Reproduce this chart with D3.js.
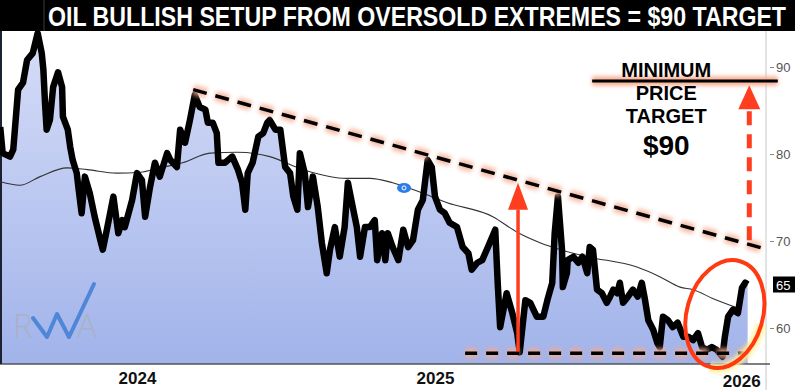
<!DOCTYPE html>
<html>
<head>
<meta charset="utf-8">
<script src="https://cdn.jsdelivr.net/npm/d3@7"></script>
<style>
  body { margin: 0; background: #fff; }
  svg { display: block; font-family: "Liberation Sans", Arial, sans-serif; }
</style>
</head>
<body>
<svg id="chart" width="795" height="390"></svg>
<script>
const titleText = "OIL BULLISH SETUP FROM OVERSOLD EXTREMES = $90 TARGET";

// WTI price trace
const priceDates = [
  "2023-07-17","2023-07-20","2023-07-29","2023-08-02","2023-08-08","2023-08-14","2023-08-19","2023-08-26",
  "2023-09-01","2023-09-06","2023-09-08","2023-09-10","2023-09-12","2023-09-16","2023-09-20","2023-09-26",
  "2023-10-01","2023-10-02","2023-10-08","2023-10-11","2023-10-14","2023-10-19","2023-10-21","2023-10-25",
  "2023-10-29","2023-11-04","2023-11-10","2023-11-17","2023-11-20","2023-11-25","2023-12-03","2023-12-09",
  "2023-12-14","2023-12-17","2023-12-26","2024-01-01","2024-01-07","2024-01-11","2024-01-17","2024-01-23",
  "2024-01-29","2024-02-07","2024-02-11","2024-02-19","2024-02-23","2024-02-29","2024-03-06","2024-03-12",
  "2024-03-18","2024-03-25","2024-03-28","2024-04-03","2024-04-08","2024-04-10","2024-04-18","2024-04-27",
  "2024-05-04","2024-05-09","2024-05-13","2024-05-16","2024-05-22","2024-05-29","2024-06-04","2024-06-09",
  "2024-06-12","2024-06-19","2024-06-25","2024-07-01","2024-07-07","2024-07-11","2024-07-16","2024-07-19",
  "2024-07-25","2024-07-29","2024-08-04","2024-08-10","2024-08-15","2024-08-21","2024-08-25","2024-08-31",
  "2024-09-06","2024-09-12","2024-09-16","2024-09-22","2024-09-27","2024-10-01","2024-10-07","2024-10-13",
  "2024-10-19","2024-10-22","2024-10-28","2024-11-01","2024-11-04","2024-11-10","2024-11-17","2024-11-23",
  "2024-11-29","2024-12-05","2024-12-11","2024-12-17","2024-12-23","2024-12-28","2025-01-01","2025-01-07",
  "2025-01-13","2025-01-19","2025-01-28","2025-02-04","2025-02-11","2025-02-15","2025-02-22","2025-02-28",
  "2025-03-07","2025-03-16","2025-03-19","2025-03-22","2025-03-30","2025-04-06","2025-04-12","2025-04-15",
  "2025-04-22","2025-04-28","2025-05-06","2025-05-14","2025-05-19","2025-05-25","2025-05-28","2025-06-01",
  "2025-06-06","2025-06-07","2025-06-12","2025-06-13","2025-06-20","2025-06-26","2025-07-01","2025-07-07",
  "2025-07-10","2025-07-14","2025-07-19","2025-07-25","2025-07-31","2025-08-04","2025-08-08","2025-08-13",
  "2025-08-16","2025-08-20","2025-08-26","2025-09-01","2025-09-07","2025-09-12","2025-09-16","2025-09-20",
  "2025-09-26","2025-10-01","2025-10-04","2025-10-08","2025-10-14","2025-10-20","2025-10-26","2025-11-02",
  "2025-11-08","2025-11-14","2025-11-20","2025-11-25","2025-12-01","2025-12-07","2025-12-13","2025-12-20",
  "2025-12-23","2025-12-27","2026-01-02","2026-01-08","2026-01-13","2026-01-17","2026-01-20"
];
const priceValues = [
  83.1,80.1,79.7,80.5,87.4,88.2,90.8,91.6,
  93.9,91.6,89.7,85.9,82.8,83.9,87.7,89.4,
  87.7,84.3,82.8,80.8,79.3,77.8,76.2,73.2,
  77.4,75.5,72.8,70.1,69.0,71.3,75.1,70.9,
  72.4,71.6,74.7,77.8,77.0,72.8,76.2,79.0,
  77.4,80.1,79.3,78.5,82.8,81.3,83.9,86.8,
  85.4,85.1,83.6,83.6,82.4,79.0,79.0,79.7,
  78.2,76.7,73.6,77.8,79.0,82.0,82.4,83.6,
  83.9,82.8,82.8,78.5,77.8,75.1,73.6,80.1,
  77.8,73.9,77.4,73.9,69.8,66.3,69.0,71.6,
  68.2,71.6,76.7,73.9,71.6,68.2,71.6,71.6,
  72.4,67.8,70.9,67.8,70.9,69.3,67.8,71.3,
  69.3,70.1,73.6,74.7,79.3,78.5,75.1,73.6,
  73.2,72.1,71.6,69.3,68.6,66.7,67.5,67.8,
  69.3,71.3,65.2,60.1,64.0,61.7,59.4,57.2,
  63.2,62.9,61.3,61.3,63.2,65.2,70.9,75.1,
  69.0,64.7,66.3,67.8,68.2,67.5,68.2,66.3,
  69.3,69.0,64.4,64.0,62.9,63.6,64.4,64.0,
  65.2,62.9,63.6,64.4,63.6,65.2,63.2,60.9,
  59.8,58.3,57.8,61.3,60.9,60.1,60.6,59.0,
  59.0,58.6,59.4,57.8,57.5,57.8,57.5,56.7,
  59.0,61.3,62.1,61.7,64.6,65.2,65.0
];

// moving average (thin line)
const maDates = [
  "2023-07-17","2023-08-10","2023-09-04","2023-10-07","2023-11-01","2023-12-07","2024-01-05","2024-01-29",
  "2024-02-26","2024-03-31","2024-05-03","2024-06-12","2024-07-23","2024-09-15","2024-10-13","2024-11-10",
  "2024-12-14","2025-01-16","2025-03-13","2025-04-12","2025-05-10","2025-06-04","2025-07-07","2025-09-06",
  "2025-10-04","2025-10-29","2025-11-14","2025-12-08","2026-01-11"
];
const maValues = [
  76.8,76.4,77.4,78.4,78.2,77.8,77.9,78.4,
  79.0,80.1,80.2,79.7,78.2,77.2,77.2,76.7,
  75.6,74.4,72.8,71.0,69.8,69.0,68.2,67.0,
  65.9,64.7,64.4,63.4,62.2
];

const yearTicks = ["2024-01-01", "2025-01-01", "2026-01-01"];
const priceTicks = [60, 70, 80, 90];

// annotations
const resistanceDates = ["2024-03-10", "2026-02-14"];
const resistanceValues = [87.4, 69.0];
const supportDates = ["2025-02-07", "2026-01-20"];
const supportValue = 57.1;
const targetDates = ["2025-07-13", "2026-02-26"];
const targetValue = 88.4;
const solidArrow = { date: "2025-04-13", from: 57.3, to: 76.7 };
const dashArrow = { date: "2026-01-22", from: 70.1, to: 87.9 };
const circleAt = { date: "2025-12-23", value: 61.6 };
const targetLabel = ["MINIMUM", "PRICE", "TARGET", "$90"];
const targetLabelDate = "2025-10-12";

const W = 795, H = 390;
const plotTop = 31, plotBottom = 364, plotRight = 766;
const red = "#ff3d1f";

const parse = d3.utcParse("%Y-%m-%d");
const price = priceDates.map((d, i) => ({ date: parse(d), v: priceValues[i] }));
const ma = maDates.map((d, i) => ({ date: parse(d), v: maValues[i] }));

const x = d3.scaleUtc()
  .domain([parse("2024-01-01"), parse("2025-01-01")])
  .range([137, 435]);
const y = d3.scaleLinear().domain([60, 80]).range([328, 154]);

const svg = d3.select("#chart");
const defs = svg.append("defs");

const grad = defs.append("linearGradient")
  .attr("id", "fillGrad").attr("gradientUnits", "userSpaceOnUse")
  .attr("x1", 0).attr("x2", 0).attr("y1", plotTop).attr("y2", plotBottom);
grad.append("stop").attr("offset", 0).attr("stop-color", "#d6ddf7");
grad.append("stop").attr("offset", 1).attr("stop-color", "#a1b3ea");

defs.append("filter").attr("id", "blur")
  .attr("filterUnits", "userSpaceOnUse")
  .attr("x", 0).attr("y", 0).attr("width", W).attr("height", H)
  .append("feGaussianBlur").attr("stdDeviation", 2);

// background
svg.append("rect").attr("width", W).attr("height", H).attr("fill", "#fff");

// area under price
svg.append("path")
  .datum(price)
  .attr("fill", "url(#fillGrad)")
  .attr("d", d3.area().x(d => x(d.date)).y0(plotBottom).y1(d => y(d.v)));

// frame lines
svg.append("line").attr("x1", plotRight).attr("x2", plotRight).attr("y1", plotTop).attr("y2", H)
  .attr("stroke", "#c8c8c8");
svg.append("line").attr("x1", 0).attr("x2", plotRight + 4).attr("y1", plotBottom).attr("y2", plotBottom)
  .attr("stroke", "#555").attr("stroke-width", 1.5);
svg.append("line").attr("x1", 1).attr("x2", 1).attr("y1", plotTop).attr("y2", plotBottom)
  .attr("stroke", "#1d2233").attr("stroke-width", 2);

// moving average
svg.append("path")
  .datum(ma)
  .attr("fill", "none").attr("stroke", "#333").attr("stroke-width", 1.1)
  .attr("d", d3.line().x(d => x(d.date)).y(d => y(d.v)).curve(d3.curveMonotoneX));

// price line
svg.append("path")
  .datum(price)
  .attr("fill", "none").attr("stroke", "#000").attr("stroke-width", 6.5)
  .attr("stroke-linejoin", "round")
  .attr("d", d3.line().x(d => x(d.date)).y(d => y(d.v)));

// small blue marker on the MA
const marker = svg.append("g")
  .attr("transform", `translate(${x(parse("2024-11-24"))},${y(76.1)})`);
marker.append("ellipse").attr("rx", 7).attr("ry", 5).attr("fill", "#2b7de9");
marker.append("circle").attr("r", 2).attr("fill", "none").attr("stroke", "#fff").attr("stroke-width", 1);

// dashed trend lines with glow
function glowLine(x1, y1, x2, y2, dash, glowColor) {
  svg.append("line").attr("x1", x1).attr("y1", y1).attr("x2", x2).attr("y2", y2)
    .attr("stroke", glowColor).attr("stroke-width", 10).attr("stroke-dasharray", dash)
    .attr("opacity", 0.8).attr("filter", "url(#blur)");
  svg.append("line").attr("x1", x1).attr("y1", y1).attr("x2", x2).attr("y2", y2)
    .attr("stroke", "#000").attr("stroke-width", 3.5).attr("stroke-dasharray", dash);
}
glowLine(x(parse(resistanceDates[0])), y(resistanceValues[0]),
         x(parse(resistanceDates[1])), y(resistanceValues[1]), "14 9", "#f6ab90");
glowLine(x(parse(supportDates[0])), y(supportValue),
         x(parse(supportDates[1])), y(supportValue), "12 9", "#f6ab90");

// target line
const tx1 = x(parse(targetDates[0])), tx2 = x(parse(targetDates[1])), ty = y(targetValue);
svg.append("line").attr("x1", tx1).attr("x2", tx2).attr("y1", ty).attr("y2", ty)
  .attr("stroke", "#f6ab90").attr("stroke-width", 9).attr("filter", "url(#blur)");
svg.append("line").attr("x1", tx1).attr("x2", tx2).attr("y1", ty).attr("y2", ty)
  .attr("stroke", "#000").attr("stroke-width", 3);

// red arrows
function arrow(a, dashed) {
  const ax = x(parse(a.date));
  const tip = y(a.to), base = tip + (dashed ? 24 : 27), hw = dashed ? 11 : 10;
  svg.append("line").attr("x1", ax).attr("x2", ax).attr("y1", y(a.from)).attr("y2", base)
    .attr("stroke", red).attr("stroke-width", dashed ? 5 : 3.5)
    .attr("stroke-dasharray", dashed ? "14 9" : null);
  svg.append("path")
    .attr("d", `M${ax},${tip}L${ax + hw},${base}L${ax - hw},${base}Z`)
    .attr("fill", red);
}
arrow(solidArrow, false);
arrow(dashArrow, true);

// ellipse around the recent low
const cx = x(parse(circleAt.date)), cy = y(circleAt.value);
const ell = svg.append("g").attr("transform", `translate(${cx},${cy}) rotate(16)`);
ell.append("ellipse").attr("rx", 38).attr("ry", 55)
  .attr("fill", "none").attr("stroke", "#fff09a").attr("stroke-width", 9).attr("filter", "url(#blur)");
ell.append("ellipse").attr("rx", 38).attr("ry", 55)
  .attr("fill", "none").attr("stroke", "#ff3a12").attr("stroke-width", 4);

// target text
const lx = x(parse(targetLabelDate));
const labelOffsets = [-4, 19, 42, 74];
const labelSizes = [20, 20, 20, 28];
svg.selectAll("text.target")
  .data(targetLabel)
  .join("text")
  .attr("class", "target")
  .attr("x", lx)
  .attr("y", (d, i) => ty + labelOffsets[i])
  .attr("text-anchor", "middle")
  .attr("font-weight", "bold")
  .attr("font-size", (d, i) => labelSizes[i])
  .attr("fill", "#000")
  .text(d => d);

// right axis
const yAxis = svg.append("g")
  .attr("transform", `translate(${plotRight + 4},0)`)
  .call(d3.axisRight(y).tickValues(priceTicks).tickSize(4).tickPadding(2));
yAxis.select(".domain").remove();
yAxis.selectAll("line").attr("stroke", "#888");
yAxis.selectAll("text").attr("font-size", 13).attr("fill", "#555")
  .attr("font-family", "Liberation Sans, Arial, sans-serif");

// current price tag
const last = price[price.length - 1];
const tagY = y(last.v);
svg.append("rect").attr("x", plotRight + 7).attr("y", tagY - 8).attr("width", 24).attr("height", 16)
  .attr("fill", "#000");
svg.append("text").attr("x", plotRight + 10).attr("y", tagY + 5)
  .attr("font-size", 13).attr("fill", "#fff")
  .text(d3.format(".0f")(last.v));

// bottom axis
const xAxis = svg.append("g")
  .attr("transform", `translate(0,${plotBottom})`)
  .call(d3.axisBottom(x).tickValues(yearTicks.map(parse))
    .tickFormat(d3.utcFormat("%Y")).tickSize(0).tickPadding(8));
xAxis.select(".domain").remove();
xAxis.selectAll("text")
  .attr("font-size", 17).attr("font-weight", "bold").attr("fill", "#111")
  .attr("font-family", "Liberation Sans, Arial, sans-serif");
xAxis.selectAll(".tick").filter((d, i) => i === yearTicks.length - 1)
  .select("text").attr("dx", 9).attr("y", 11);

// logo
const logo = svg.append("g");
logo.append("text").attr("x", 13).attr("y", 338).attr("font-size", 33)
  .attr("font-family", "Open Sans, sans-serif").attr("font-weight", 300)
  .attr("fill", "#a9b1c6").text("R");
logo.append("text").attr("x", 77).attr("y", 338).attr("font-size", 33)
  .attr("font-family", "Open Sans, sans-serif").attr("font-weight", 300)
  .attr("fill", "#a9b1c6").text("A");
logo.append("path")
  .attr("d", "M33,318L47,337L57,314L69,337L94,284")
  .attr("fill", "none").attr("stroke", "#4f86d6").attr("stroke-width", 4)
  .attr("stroke-linejoin", "round").attr("stroke-linecap", "round");

// title bar
svg.append("rect").attr("width", W).attr("height", plotTop).attr("fill", "#000");
svg.append("line").attr("x1", 44).attr("x2", 44).attr("y1", 0).attr("y2", plotTop)
  .attr("stroke", "#3a3a3a");
svg.append("text")
  .attr("transform", "translate(48,26) scale(1,1.28)")
  .attr("font-family", "Liberation Sans, Arial, sans-serif")
  .attr("font-weight", "bold").attr("font-size", 21)
  .attr("fill", "#fff")
  .attr("textLength", 738).attr("lengthAdjust", "spacingAndGlyphs")
  .text(titleText);
</script>
</body>
</html>
